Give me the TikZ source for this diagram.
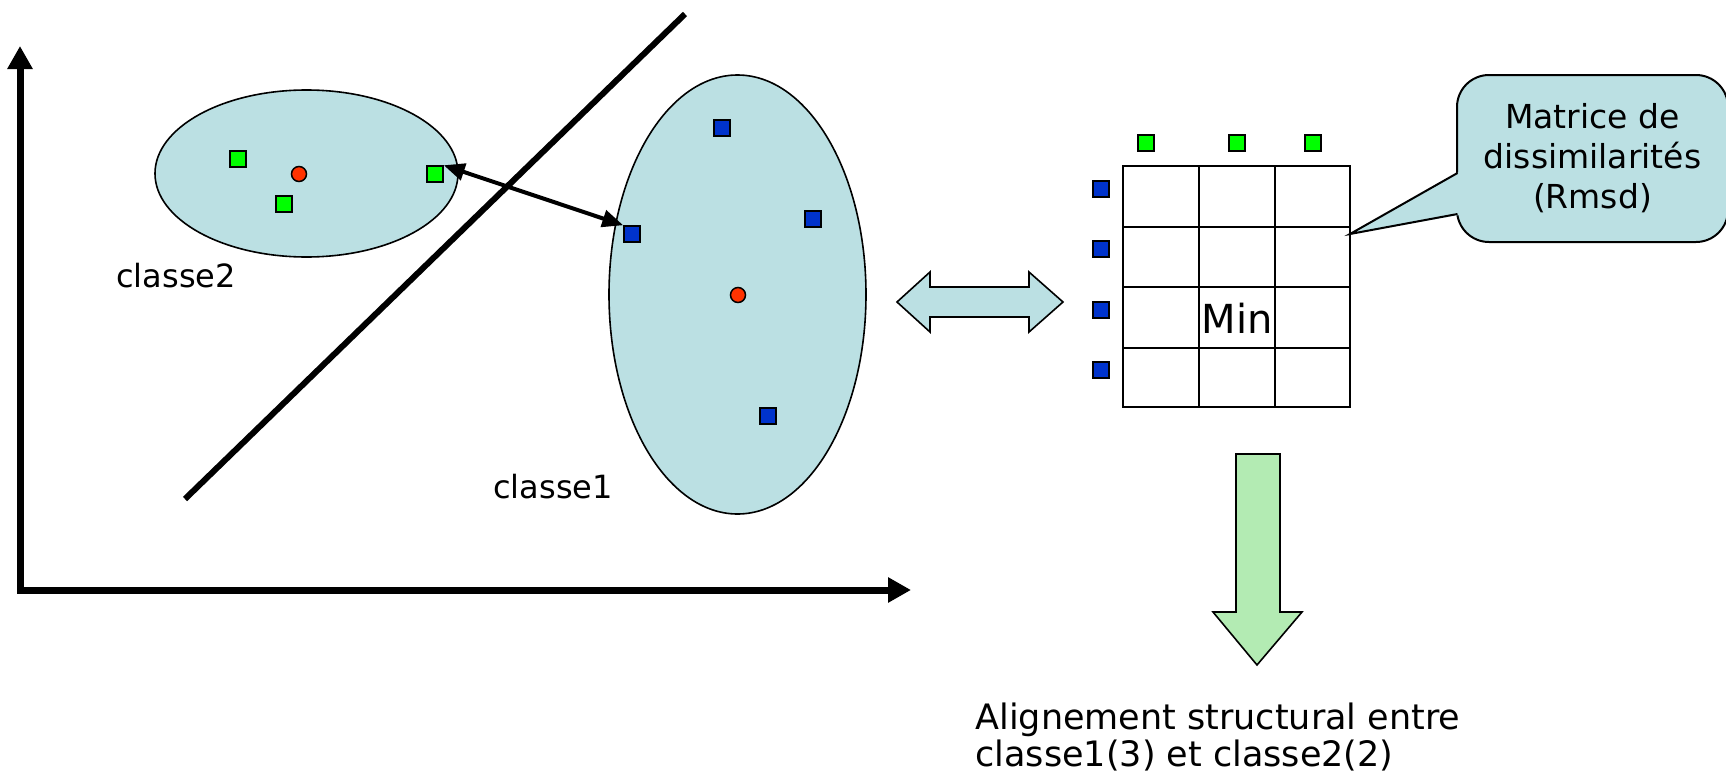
\documentclass[tikz,border=0pt]{standalone}
\usepackage{fontspec}
\setmainfont{DejaVu Sans}
\usetikzlibrary{arrows.meta,shapes.geometric}
\definecolor{cloud}{RGB}{187,224,227}
\definecolor{mint}{RGB}{179,235,179}
\definecolor{ptgreen}{RGB}{0,255,0}
\definecolor{ptblue}{RGB}{0,51,204}
\definecolor{ptred}{RGB}{255,51,0}
\tikzset{
  cluster/.style={ellipse, draw=black, fill=cloud, line width=0.8pt, inner sep=0pt},
  gpt/.style={rectangle, draw=black, fill=ptgreen, line width=0.75pt, minimum size=8pt, inner sep=0pt},
  bpt/.style={gpt, fill=ptblue},
  centre/.style={circle, draw=black, fill=ptred, line width=0.75pt, minimum size=7.5pt, inner sep=0pt},
  lbl/.style={inner sep=0pt, font=\fontsize{16}{19.5}\selectfont},
  axisline/.style={line width=3.5pt, line join=miter,
    {Triangle[length=11.5pt,width=12pt]}-{Triangle[length=11.5pt,width=12pt]}},
  link/.style={line width=2pt,
    {Triangle[length=10.5pt,width=8.5pt]}-{Triangle[length=10.5pt,width=8.5pt]}},
  gridl/.style={line width=1pt},
  blockarrow/.style={draw=black, line width=0.8pt, line join=miter},
}
\begin{document}
\begin{tikzpicture}[x=0.5pt, y=-0.5pt]
\useasboundingbox (0,0) rectangle (1726,777);

% axes
\coordinate (ytip) at (20,46);
\coordinate (origin) at (20,590);
\coordinate (xtip) at (911,590);
\draw[axisline] (ytip) -- (origin) -- (xtip);

% separating line
\coordinate (sepA) at (185,499);
\coordinate (sepB) at (685,14);
\draw[line width=3pt] (sepA) -- (sepB);

% class 2
\node[cluster, minimum width=151.5pt, minimum height=83.5pt] (c2) at (306.5,173.5) {};
\node[gpt] (g1) at (238,159) {};
\node[gpt] (g2) at (284,204) {};
\node[gpt] (g3) at (435,174) {};
\node[centre] (m2) at (299,174) {};
\node[lbl] (lab2) at (176,276) {classe2};

% class 1
\node[cluster, minimum width=128.5pt, minimum height=219.5pt] (c1) at (737.5,294.5) {};
\node[bpt] (b1) at (632,234) {};
\node[bpt] (b2) at (722,128) {};
\node[bpt] (b3) at (813,219) {};
\node[bpt] (b4) at (768,416) {};
\node[centre] (m1) at (738,295) {};
\node[lbl] (lab1) at (553,487) {classe1};

% closest pair
\draw[link] (g3.north east) -- (b1.north west);

% equivalence arrow
\draw[blockarrow, fill=cloud] (897,302) -- (930,272) -- (930,287) -- (1029,287) -- (1029,272)
  -- (1063,302) -- (1029,332) -- (1029,317) -- (930,317) -- (930,332) -- cycle;

% dissimilarity matrix
\draw[gridl] (1123,166) rectangle (1350,407);
\foreach \x in {1199,1275} \draw[gridl] (\x,166) -- (\x,407);
\foreach \y in {227,287,348} \draw[gridl] (1123,\y) -- (1350,\y);
\node[inner sep=0pt, font=\fontsize{20}{24}\selectfont] (min) at (1237,318) {Min};
\foreach \x/\n in {1146/1,1237/2,1313/3} \node[gpt] (col\n) at (\x,143) {};
\foreach \y/\n in {189/1,249/2,310/3,370/4} \node[bpt] (row\n) at (1101,\y) {};

% callout
\node[rectangle, rounded corners=16pt, draw=black, fill=cloud, line width=1pt,
  minimum width=135.5pt, minimum height=83.5pt, inner sep=0pt, align=center,
  font=\fontsize{16.5}{20}\selectfont] (note) at (1592.5,158.5)
  {Matrice de\\dissimilarités\\(Rmsd)};
\coordinate (tip) at (1350,234);
\fill[cloud] (1459,172) -- (tip) -- (1459,215) -- cycle;
\draw[line width=1pt, line join=miter] (1457.5,173) -- (tip) -- (1457.5,214);

% result arrow
\draw[blockarrow, fill=mint] (1236,454) -- (1280,454) -- (1280,612) -- (1302,612)
  -- (1257,665) -- (1213,612) -- (1236,612) -- cycle;
\node[anchor=north west, align=left, inner sep=0pt,
  font=\fontsize{17.5}{18.5}\selectfont] (result) at (975,703)
  {Alignement structural entre\\classe1(3) et classe2(2)};
\end{tikzpicture}
\end{document}
